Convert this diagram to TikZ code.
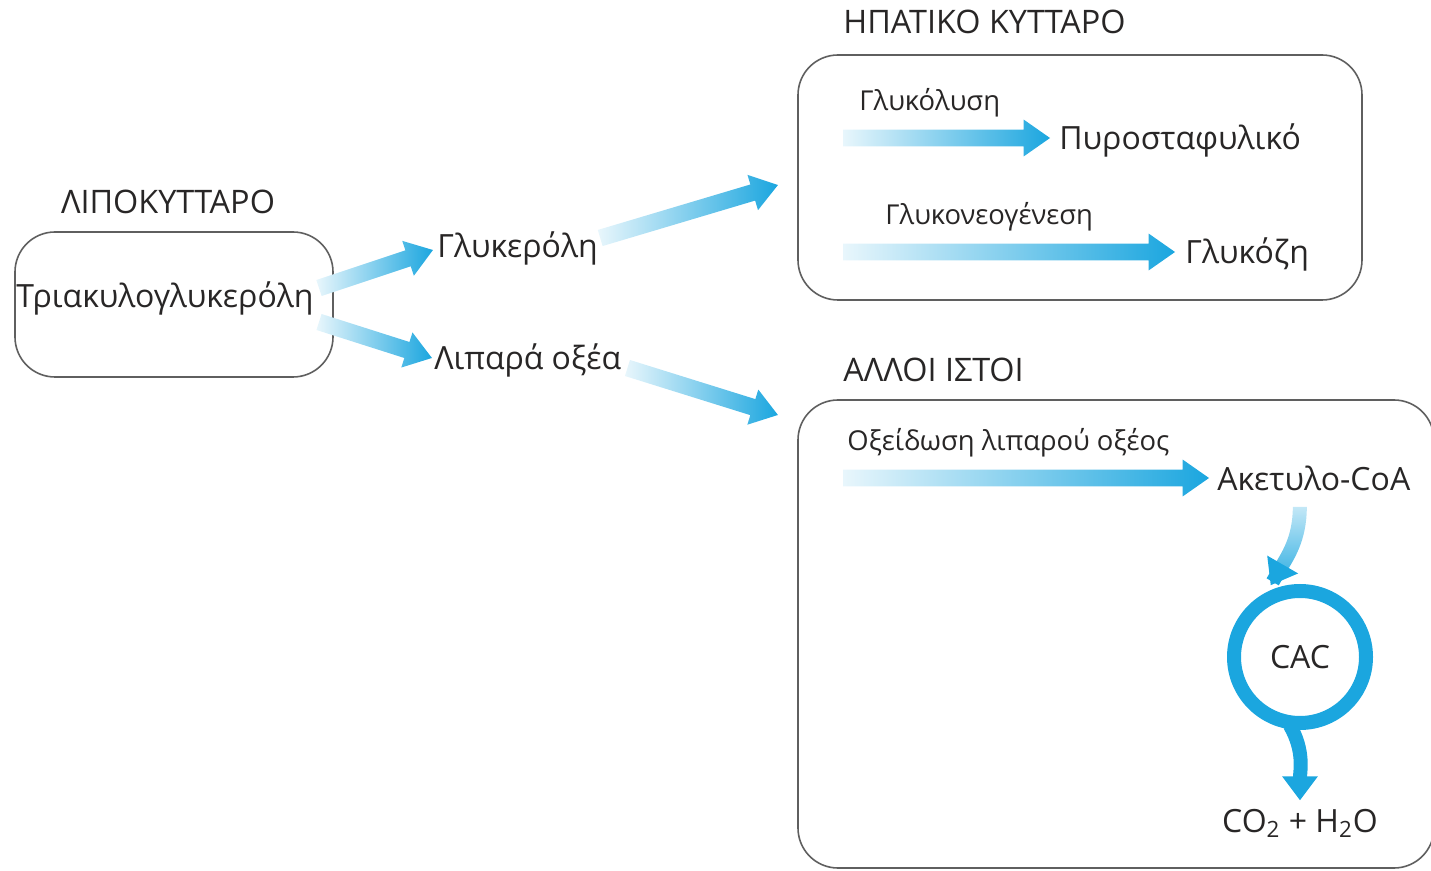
\documentclass[tikz,border=0pt]{standalone}
\usepackage{fontspec}
\setmainfont{Open Sans}
\usepackage{tikz}
\usetikzlibrary{calc}
\usetikzlibrary{arrows.meta}
\usetikzlibrary{shapes.arrows}
\usetikzlibrary{fadings}
\usetikzlibrary{positioning}
\definecolor{flowblue}{RGB}{27,166,223}
\definecolor{inkgray}{RGB}{40,38,38}
\definecolor{boxgray}{RGB}{95,95,95}
\tikzfading[name=fadedown, top color=transparent!80, middle color=transparent!10, bottom color=transparent!0]
\tikzset{
  cellbox/.style={draw=boxgray, line width=0.8pt, rounded corners=20pt},
  title/.style={inner sep=0pt, text=inkgray, font=\fontsize{16.2}{19}\selectfont},
  lbl/.style={inner sep=0pt, text=inkgray, font=\fontsize{16}{19}\selectfont},
  proclbl/.style={inner sep=0pt, text=inkgray, font=\fontsize{13.7}{16}\selectfont},
  flow/.style={single arrow, draw=none, inner xsep=0pt, inner ysep=4pt, outer sep=0pt,
    single arrow head extend=5pt, single arrow tip angle=70,
    left color=flowblue!10, right color=flowblue},
  cyctail/.style={draw=flowblue, line width=7pt},
  cycflow/.style={cyctail, -{Triangle[length=12pt, width=17pt]}},
}
\newcommand{\flowarrow}[2]{%
  \path let \p1=($(#2)-(#1)$), \n1={atan2(\y1,\x1)}, \n2={veclen(\x1,\y1)} in
    (#1) node[flow, anchor=tail, rotate=\n1, minimum height=\n2] {};}

\begin{document}
\begin{tikzpicture}[x=0.5pt, y=-0.5pt]
  \useasboundingbox (0,0) rectangle (1431,871);
  % the three cells
  \draw[cellbox] ( 15, 232) rectangle ( 333, 377);
  \draw[cellbox] (798,  55) rectangle (1362, 300);
  \draw[cellbox] (798, 400) rectangle (1434, 868);

  \node[title] (lipo)  at ( 168, 202) {ΛΙΠΟΚΥΤΤΑΡΟ};
  \node[title, anchor=west] (hep)  at ( 843,  22) {ΗΠΑΤΙΚΟ ΚΥΤΤΑΡΟ};
  \node[title, anchor=west] (allo) at ( 843, 370) {ΑΛΛΟΙ ΙΣΤΟΙ};

  \node[lbl] (tag) at (165, 298) {Τριακυλογλυκερόλη};
  \node[lbl, anchor=west] (glyc) at (437, 248) {Γλυκερόλη};
  \node[lbl, anchor=west] (fa)   at (434, 360) {Λιπαρά οξέα};

  \node[proclbl, anchor=west] (glys) at ( 859, 103) {Γλυκόλυση};
  \node[lbl, anchor=west]     (pyr)  at (1059, 140) {Πυροσταφυλικό};
  \node[proclbl, anchor=west] (glng) at ( 885, 217) {Γλυκονεογένεση};
  \node[lbl, anchor=west]     (glu)  at (1185, 254) {Γλυκόζη};
  \node[proclbl, anchor=west] (oxid) at ( 847, 443) {Οξείδωση λιπαρού οξέος};
  \node[lbl, anchor=west]     (acoa) at (1217, 478) {Ακετυλο-CoA};

  \node[lbl, circle, draw=flowblue, line width=7pt, minimum size=66pt] (cac) at (1300, 657) {CAC};
  \node[lbl] (co2) at (1300, 823) {CO\textsubscript{2} + H\textsubscript{2}O};

  % arrow ends
  \coordinate (tag-up)   at ($(tag.east)+(5,-10)$);
  \coordinate (tag-dn)   at ($(tag.east)+(5,24)$);
  \coordinate (glyc-in)  at ($(glyc.west)+(-4,2)$);
  \coordinate (fa-in)    at ($(fa.west)+(-2,-2)$);
  \coordinate (glyc-out) at ($(glyc.east)+(2,-10)$);
  \coordinate (fa-out)   at ($(fa.east)+(6,8)$);
  \coordinate (hep-in)   at (778, 185);
  \coordinate (allo-in)  at (778, 415);
  \coordinate (glys-s)   at (843, 138);
  \coordinate (glng-s)   at (843, 252);
  \coordinate (oxid-s)   at (843, 478);
  \coordinate (acoa-out) at ($(acoa.south)+(-14,16)$);
  \coordinate (cac-in)   at ($(cac.112)+(-2,-4)$);

  \flowarrow{tag-up}{glyc-in}
  \flowarrow{tag-dn}{fa-in}
  \flowarrow{glyc-out}{hep-in}
  \flowarrow{fa-out}{allo-in}
  \flowarrow{glys-s}{$(pyr.west)+(-9,-2)$}
  \flowarrow{glng-s}{$(glu.west)+(-10,-2)$}
  \flowarrow{oxid-s}{$(acoa.west)+(-8,0)$}

  \draw[cyctail, path fading=fadedown, shorten >=9pt] (acoa-out) to[out=-90, in=60] (cac-in);
  \draw[cycflow] ($(cac-in)+(60:2pt)$) -- (cac-in);
  \draw[cycflow] ($(cac.262)+(0,-4)$) to[out=-60, in=90] ($(co2.north)+(0,-8)$);
\end{tikzpicture}
\end{document}
